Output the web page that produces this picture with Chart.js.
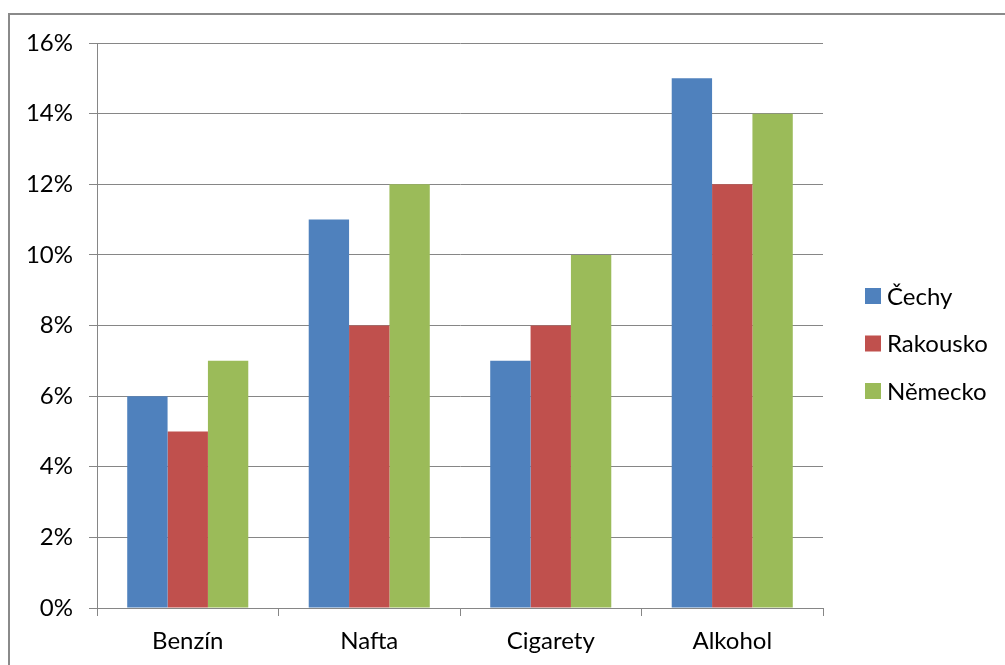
<!DOCTYPE html>
<html>
<head>
<meta charset="utf-8">
<script src="https://cdn.jsdelivr.net/npm/chart.js@4/dist/chart.umd.min.js"></script>
<style>
  html, body { margin: 0; padding: 0; background: #ffffff; }
  #wrap { width: 1005px; height: 665px; position: relative; }
</style>
</head>
<body>
<div id="wrap"><canvas id="c" width="1005" height="665"></canvas></div>
<script>
// Kategorie zboží
const categories = ['Benzín', 'Nafta', 'Cigarety', 'Alkohol'];
// Hodnoty v procentech pro jednotlivé země
const cechy = [6, 11, 7, 15];
const rakousko = [5, 8, 8, 12];
const nemecko = [7, 12, 10, 14];
const seriesNames = ['Čechy', 'Rakousko', 'Německo'];
const seriesColors = ['#4F81BD', '#C0504D', '#9BBB59'];
// Osa Y: 0 % až 16 % po 2 %
const yMin = 0, yMax = 16, yStep = 2;

const FONT = 'Lato, "Liberation Sans", sans-serif';
const GRID = '#868686';

// Rámeček grafu a legenda vpravo
const framePlugin = {
  id: 'frame',
  beforeDraw(chart) {
    const ctx = chart.ctx;
    ctx.save();
    ctx.fillStyle = '#ffffff';
    ctx.fillRect(0, 0, chart.width, chart.height);
    ctx.strokeStyle = '#8a8a8a';
    ctx.lineWidth = 2;
    ctx.strokeRect(9, 14, chart.width + 20, chart.height + 20);
    ctx.restore();
  },
  afterDraw(chart) {
    const ctx = chart.ctx;
    ctx.save();
    ctx.font = '24px ' + FONT;
    ctx.textBaseline = 'middle';
    ctx.textAlign = 'left';
    const x0 = 865, y0 = 296, gap = 47.5;
    chart.data.datasets.forEach((ds, i) => {
      const y = y0 + i * gap;
      ctx.fillStyle = ds.backgroundColor;
      ctx.fillRect(x0, y - 8, 16, 16);
      ctx.fillStyle = '#000000';
      ctx.fillText(ds.label, x0 + 22, y + 1);
    });
    ctx.restore();
  }
};

new Chart(document.getElementById('c'), {
  type: 'bar',
  data: {
    labels: categories,
    datasets: [
      { label: seriesNames[0], data: cechy, backgroundColor: seriesColors[0] },
      { label: seriesNames[1], data: rakousko, backgroundColor: seriesColors[1] },
      { label: seriesNames[2], data: nemecko, backgroundColor: seriesColors[2] }
    ]
  },
  options: {
    responsive: false,
    animation: false,
    devicePixelRatio: 1,
    layout: { padding: { top: 43, right: 182, bottom: 0, left: 0 } },
    datasets: { bar: { categoryPercentage: 0.667, barPercentage: 1.0, borderWidth: 0 } },
    plugins: {
      legend: { display: false },
      tooltip: { enabled: false }
    },
    scales: {
      x: {
        afterFit(scale) { scale.height = 57; },
        grid: {
          display: true,
          drawOnChartArea: false,
          drawTicks: true,
          tickLength: 8,
          color: GRID,
          lineWidth: 1,
          offset: true
        },
        border: { display: true, color: GRID, width: 1 },
        ticks: {
          color: '#000000',
          font: { family: FONT, size: 24 },
          padding: 11
        }
      },
      y: {
        min: yMin,
        max: yMax,
        afterFit(scale) { scale.width = 97; },
        grid: {
          color: GRID,
          lineWidth: 1,
          drawTicks: true,
          tickLength: 8
        },
        border: { display: true, color: GRID, width: 1 },
        ticks: {
          stepSize: yStep,
          color: '#000000',
          font: { family: FONT, size: 24 },
          padding: 16,
          callback: (v) => v + '%'
        }
      }
    }
  },
  plugins: [framePlugin]
});
</script>
</body>
</html>
